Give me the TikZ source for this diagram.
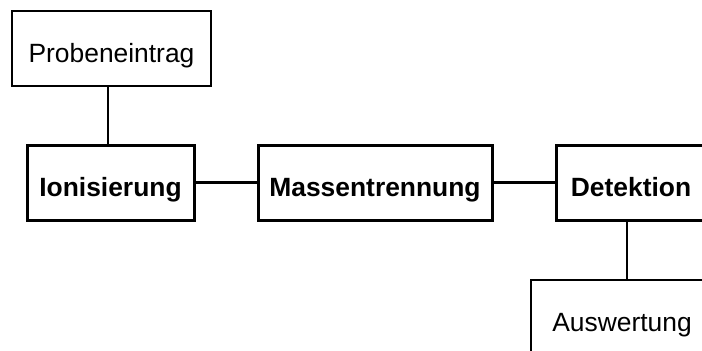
\documentclass[tikz,border=0pt]{standalone}
\usepackage{fontspec}
\setmainfont{Liberation Sans}
\begin{document}
\begin{tikzpicture}[x=1pt,y=-1pt,
  box/.style={draw, rectangle, minimum height=75pt, inner sep=0pt,
    text height=27pt, text depth=0pt},
  stage/.style={box, line width=3pt, font=\fontsize{26.4}{30}\selectfont\bfseries},
  aux/.style={box, line width=1.3pt, font=\fontsize{26.4}{30}\selectfont},
  link/.style={line width=3pt},
  feed/.style={line width=1.3pt}]
  \clip (0,0) rectangle (702,351);
  \fill[white] (0,0) rectangle (702,351);

  % main chain of the spectrometer
  \node[stage, minimum width=167pt] (ion)  at (110.5,182.5) {Ionisierung};
  \node[stage, minimum width=234pt] (mass) at (375,182.5) {Massentrennung};
  \node[stage, minimum width=150pt] (det)  at (631,182.5) {Detektion};

  % input and output stages
  \node[aux, minimum width=199pt] (probe) at (111.5,48.5) {Probeneintrag};
  \node[aux, minimum width=182pt] (ausw)  at (622,317.5) {Auswertung};

  % connectors
  \draw[link] (ion.east) -- (mass.west);
  \draw[link] (mass.east) -- (det.west);
  \draw[feed] ([xshift=-3.5pt]probe.south) -- ([xshift=-3.5pt]probe.south |- ion.north);
  \draw[feed] ([xshift=-4pt]det.south) -- ([xshift=-4pt]det.south |- ausw.north);
\end{tikzpicture}
\end{document}
